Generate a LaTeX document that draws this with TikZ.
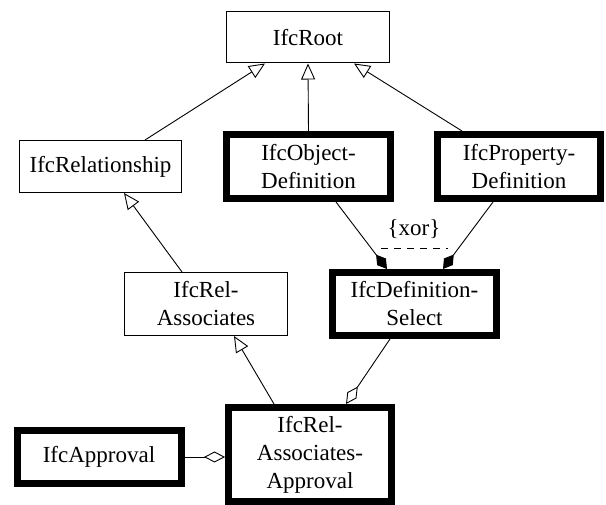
\documentclass[tikz,border=0pt]{standalone}
\usepackage{fontspec}
\setmainfont{Liberation Serif}
\usetikzlibrary{arrows.meta,calc}
\begin{document}
\begin{tikzpicture}[x=1pt,y=-1pt,
  every node/.style={font=\fontsize{23}{28}\selectfont, align=center, inner sep=0pt},
  thinbox/.style={draw, line width=1pt, rectangle},
  thickbox/.style={draw, line width=7pt, rectangle},
  conn/.style={line width=0.9pt},
  inherit/.style={conn, -{Triangle[open, length=16pt, width=14pt]}},
  aggr/.style={conn, -{Diamond[open, length=21pt, width=11pt]}},
  comp/.style={conn, -{Diamond[length=18pt, width=11pt]}}]
\useasboundingbox (0,0) rectangle (606,505);
\node[thinbox, minimum width=163pt, minimum height=51pt] (root) at (308,37.5) {IfcRoot};
\node[thinbox, minimum width=162pt, minimum height=52pt] (rel) at (100.5,166.5) {IfcRelationship};
\node[thickbox, minimum width=164pt, minimum height=64pt] (obj) at (308.5,166.5) {IfcObject-\\Definition};
\node[thickbox, minimum width=163pt, minimum height=64pt] (prop) at (519,166.5) {IfcProperty-\\Definition};
\node[thinbox, minimum width=163pt, minimum height=63pt] (ra) at (206,304) {IfcRel-\\Associates};
\node[thickbox, minimum width=164pt, minimum height=63pt] (ds) at (414.5,304) {IfcDefinition-\\Select};
\node[thickbox, minimum width=164pt, minimum height=53pt] (appr) at (99,457) {IfcApproval};
\node[thickbox, minimum width=163pt, minimum height=94pt] (raa) at (310,454.5) {IfcRel-\\Associates-\\Approval};
\node (xor) at (414,229) {\{xor\}};
\coordinate (xl) at (381,248);
\coordinate (xr) at (448,248);
% inheritance
\draw[inherit] ([xshift=44.5pt]rel.north) -- ([xshift=-43pt]root.south);
\draw[inherit] (obj.north) -- (root.south);
\draw[inherit] ([xshift=-57pt]prop.north) -- ([xshift=46pt]root.south);
\draw[inherit] ([xshift=-24pt]ra.north) -- ([xshift=23.5pt]rel.south);
\draw[inherit] ([xshift=-36pt]raa.north) -- ([xshift=28pt]ra.south);
% xor compositions
\draw[comp] ([xshift=27.5pt]obj.south) -- ([xshift=-27.5pt]ds.north);
\draw[comp] ([xshift=-26pt]prop.south) -- ([xshift=28.5pt]ds.north);
\draw[line width=0.9pt, dash pattern=on 7pt off 6pt] (xl) -- (xr);
% aggregations
\draw[aggr] ([xshift=-24.5pt]ds.south) -- ([xshift=36pt]raa.north);
\draw[aggr] (appr.east) -- (appr.east -| raa.west);
\end{tikzpicture}
\end{document}
